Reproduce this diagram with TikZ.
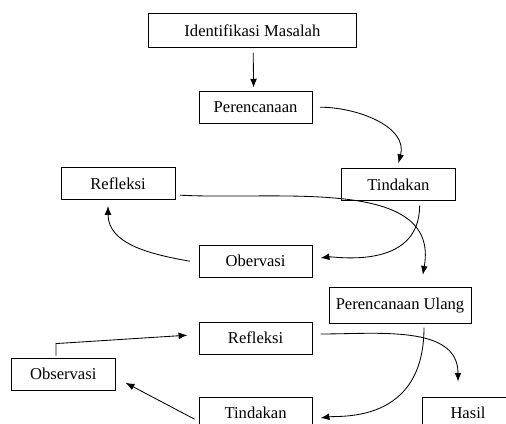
\documentclass[tikz,border=0pt]{standalone}
\usepackage{fontspec}
\setmainfont{Liberation Serif}
\usetikzlibrary{arrows.meta}

\begin{document}
\begin{tikzpicture}
    [
        every node/.style={draw, minimum height=0.8cm, minimum width=2.83cm, align=center, font=\fontsize{11.8}{14}\selectfont, line width=0.6pt},
        every path/.style={->, >={Latex[length=2.2mm, width=1.7mm]}, line width=0.6pt},
    ]
  \useasboundingbox (0,0) rectangle (12.65,-10.6);

  % Nodes
  \node [minimum width=5.22cm, minimum height=0.83cm] (idm) at (6.31,-0.76) {Identifikasi Masalah};
  \node [] (per) at (6.39,-2.68) {Perencanaan};
  \node [minimum width=2.85cm] (ref) at (2.95,-4.59) {Refleksi};
  \node [] (tin) at (9.96,-4.61) {Tindakan};
  \node [] (obv) at (6.39,-6.53) {Obervasi};
  \node [minimum width=3.55cm, minimum height=0.9cm] (peru) at (10.0,-7.63) {Perencanaan Ulang};
  \node [] (refd) at (6.39,-8.45) {Refleksi};
  \node [minimum width=2.6cm] (obs) at (1.58,-9.35) {Observasi};
  \node [] (tind) at (6.39,-10.33) {Tindakan};
  \node [minimum width=2.3cm] (hasil) at (11.7,-10.33) {Hasil};

  % Connections
  \draw [] ([xshift=0.02cm, yshift=-0.13cm]idm.south) -- ([xshift=-0.05cm, yshift=0.08cm]per.north);
  \draw [] ([xshift=0.18cm]per.east) to[out=0, in=75] ([yshift=0.12cm]tin.north);
  \draw [] ([xshift=0.53cm, yshift=-0.12cm]tin.south) to[out=-90, in=8, out looseness=1.5, in looseness=0.3] ([xshift=0.2cm, yshift=0.08cm]obv.east);
  \draw [] ([xshift=-0.22cm]obv.west) to[out=170, in=-90] ([xshift=-0.25cm, yshift=-0.15cm]ref.south);
  \draw [] ([xshift=0.12cm, yshift=-0.29cm]ref.east) to[out=-3, in=80] ([xshift=0.57cm, yshift=0.3cm]peru.north);
  \draw [] ([xshift=0.6cm, yshift=-0.1cm]peru.south) to[out=-90, in=8, out looseness=1.8, in looseness=0.35] ([xshift=0.2cm, yshift=-0.12cm]tind.east);
  \draw [] ([xshift=-0.1cm, yshift=-0.15cm]tind.west) -- ([xshift=0.25cm, yshift=-0.22cm]obs.east);
  \draw [] ([xshift=-0.18cm, yshift=0.05cm]obs.north) -- ++(0,0.3) -- ([xshift=-0.28cm, yshift=0.07cm]refd.west);
  \draw [] ([xshift=0.2cm, yshift=0.1cm]refd.east) to[out=0, in=90] ([xshift=-0.25cm, yshift=0.38cm]hasil.north);
\end{tikzpicture}
\end{document}
